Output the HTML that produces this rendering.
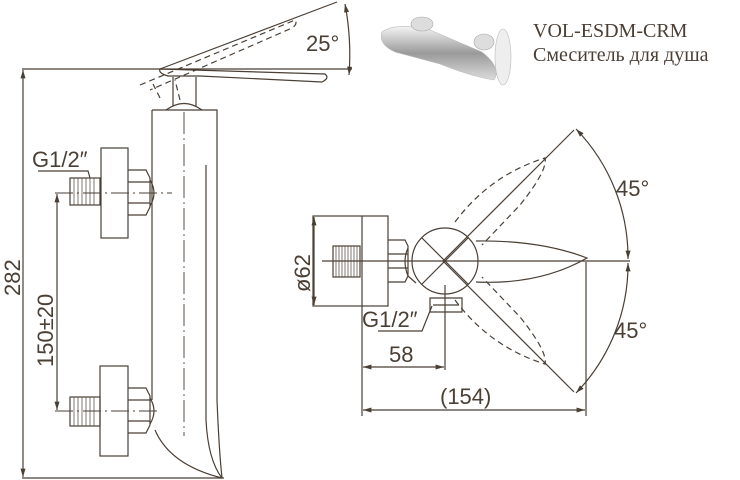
<!DOCTYPE html>
<html><head><meta charset="utf-8"><style>
html,body{margin:0;padding:0;background:#fff;}
svg{display:block;}
text{fill:#4a3f35;}
</style></head><body>
<svg width="740" height="480" viewBox="0 0 740 480" xmlns="http://www.w3.org/2000/svg">
<defs>
<marker id="a" viewBox="0 0 10 10" refX="10" refY="5" markerWidth="7" markerHeight="7" orient="auto-start-reverse"><path d="M0,2 L10,5 L0,8 z" fill="#4a3f35"/></marker>
<linearGradient id="g" x1="0" y1="0" x2="0" y2="1"><stop offset="0" stop-color="#f4f4f4"/><stop offset="0.5" stop-color="#9a9a9a"/><stop offset="1" stop-color="#dcdcdc"/></linearGradient>
</defs>
<g fill="none" stroke="#4a3f35" stroke-width="1.2">
<line x1="22" y1="69" x2="352" y2="69"/>
<line x1="22" y1="478" x2="224" y2="478"/>
<line x1="23" y1="70" x2="23" y2="477" marker-start="url(#a)" marker-end="url(#a)"/>
<line x1="160" y1="69" x2="337" y2="2"/>
<path d="M345,4 A270,270 0 0 1 349,75" marker-start="url(#a)" marker-end="url(#a)"/>
<path d="M160,69 L325,74 Q330,78 322,82 L200,76 L168,76 Q158,73 160,69 Z"/>
<g stroke-dasharray="6,4">
<path d="M140,85 L295,20 Q298,24 292,28 L150,90"/>
<path d="M160,98 L153,84 M180,100 L175,80"/>
</g>
<line x1="173" y1="77" x2="173" y2="106"/>
<line x1="196" y1="77" x2="196" y2="106"/>
<path d="M166,110 Q184,97 202,110"/>
<path d="M152,110 L217,110 L217,400 Q219,450 222,478"/>
<line x1="152" y1="110" x2="152" y2="400"/>
<line x1="206" y1="165" x2="206" y2="420"/>
<path d="M206,420 Q208,460 222,478"/>
<path d="M155,430 Q170,465 222,478"/>
<line x1="184" y1="112" x2="184" y2="436" stroke-dasharray="22,4,2,4" stroke-width="0.9"/>
<rect x="101" y="148" width="27" height="90"/>
<rect x="70" y="178" width="30" height="27"/>
<path d="M74,178v27M78,178v27M82,178v27M86,178v27M90,178v27M94,178v27" stroke-width="0.7"/>
<path d="M128,170 L146,170 L150,178 L150,207 L146,215 L128,215 M128,182 L150,182 M128,203 L150,203 M150,180 Q158,193 150,206"/>
<line x1="55" y1="193" x2="172" y2="193" stroke-dasharray="18,4,2,4" stroke-width="0.9"/>
<rect x="100" y="366" width="28" height="90"/>
<rect x="70" y="397" width="30" height="29"/>
<path d="M74,397v29M78,397v29M82,397v29M86,397v29M90,397v29M94,397v29" stroke-width="0.7"/>
<path d="M128,388 L146,388 L150,396 L150,425 L146,433 L128,433 M128,400 L150,400 M128,421 L150,421 M150,398 Q158,411 150,424"/>
<line x1="55" y1="411" x2="160" y2="411" stroke-dasharray="18,4,2,4" stroke-width="0.9"/>
<line x1="57" y1="194" x2="57" y2="410" marker-start="url(#a)" marker-end="url(#a)"/>
<path d="M38,171 L88,171 L90,178"/>
<rect x="313" y="216" width="75" height="90"/>
<line x1="362" y1="216" x2="362" y2="306"/>
<line x1="314" y1="217" x2="314" y2="305" marker-start="url(#a)" marker-end="url(#a)"/>
<rect x="333" y="246" width="27" height="31"/>
<path d="M336,246v31M339,246v31M342,246v31M345,246v31M348,246v31M351,246v31M354,246v31M357,246v31" stroke-width="0.7"/>
<path d="M388,240 L405,240 L408,246 L408,276 L405,282 L388,282 M388,254 L408,254 M388,268 L408,268"/>
<path d="M408,248 Q402,261 408,276 L416,283"/>
<circle cx="445" cy="261" r="33"/>
<line x1="422" y1="238" x2="468" y2="284"/>
<line x1="422" y1="284" x2="468" y2="238"/>
<path d="M430,298 L462,298 L462,312 L430,312 Z M433,305 L459,305"/>
<line x1="445" y1="285" x2="445" y2="370"/>
<path d="M476,241 Q540,240 587,258 Q540,285 476,282"/>
<line x1="322" y1="261" x2="630" y2="261"/>
<line x1="443" y1="261" x2="574" y2="130"/>
<line x1="443" y1="261" x2="574" y2="392"/>
<g stroke-dasharray="6,4">
<path d="M455,222 Q490,175 545,158 Q548,170 520,205 L482,245"/>
<path d="M455,300 Q490,347 545,364 Q548,352 520,317 L482,277"/>
</g>
<path d="M576,129 A185,185 0 0 1 628,259" marker-start="url(#a)" marker-end="url(#a)"/>
<path d="M628,263 A185,185 0 0 1 576,393" marker-start="url(#a)" marker-end="url(#a)"/>
<line x1="362" y1="306" x2="362" y2="416"/>
<line x1="586" y1="262" x2="586" y2="416"/>
<line x1="363" y1="367" x2="444" y2="367" marker-start="url(#a)" marker-end="url(#a)"/>
<line x1="363" y1="410" x2="585" y2="410" marker-start="url(#a)" marker-end="url(#a)"/>
<path d="M378,331 L422,331 L432,306"/>
</g>
<g>
<path d="M382,32 Q395,22 430,30 L482,52 Q502,68 494,80 Q470,76 440,64 L395,52 Q378,44 382,32 Z" fill="url(#g)" stroke="#bbb" stroke-width="0.6"/>
<ellipse cx="422" cy="24" rx="11" ry="7" fill="#ddd" stroke="#aaa" stroke-width="0.6"/>
<ellipse cx="484" cy="42" rx="10" ry="8" fill="#ddd" stroke="#aaa" stroke-width="0.6"/>
<ellipse cx="503" cy="57" rx="8" ry="28" fill="#eee" stroke="#bbb" stroke-width="0.6"/>
</g>
<g font-family="Liberation Sans, sans-serif" font-size="22">
<text x="306" y="51">25°</text>
<text x="32" y="167">G1/2″</text>
<text transform="translate(20,296) rotate(-90)">282</text>
<text transform="translate(53,367) rotate(-90)">150±20</text>
<text transform="translate(310,292) rotate(-90)">ø62</text>
<text x="362" y="327">G1/2″</text>
<text x="389" y="362">58</text>
<text x="440" y="404">(154)</text>
<text x="616" y="196">45°</text>
<text x="614" y="338">45°</text>
</g>
<g font-family="Liberation Serif, serif" font-size="20">
<text x="533" y="37">VOL-ESDM-CRM</text>
<text x="533" y="61">Смеситель для душа</text>
</g>
</svg>
</body></html>
